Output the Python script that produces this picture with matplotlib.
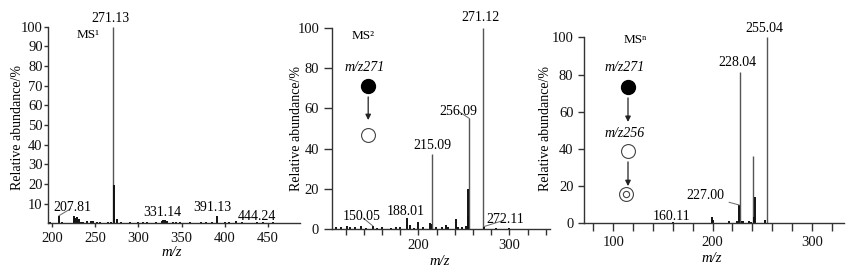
import matplotlib
matplotlib.use("Agg")
import matplotlib.pyplot as plt

plt.rcParams['font.family'] = ['Liberation Serif', 'DejaVu Serif']

# ---------------- data ----------------
ms1_mz = [271.13, 272.13, 207.81, 331.14, 391.13, 444.24,
          198, 203, 212, 225, 227, 229, 231, 233, 236, 240, 245, 247, 252, 256,
          260, 265, 268, 275, 280, 285, 290, 296, 300, 305, 310, 315, 320, 327,
          329, 333, 340, 344, 348, 355, 360, 366, 372, 378, 385, 395, 400, 405,
          413, 420, 430, 437, 450, 456, 462]
ms1_int = [100, 19.5, 3.8, 1.5, 3.5, 0.8,
           0.5, 0.4, 0.6, 3.6, 2.5, 3.0, 2.2, 0.8, 0.6, 1.4, 1.3, 1.0, 0.6, 0.5,
           0.4, 0.6, 0.5, 2.0, 0.6, 0.4, 0.5, 0.4, 0.8, 0.6, 0.5, 0.4, 0.6, 1.2,
           1.8, 1.0, 0.9, 0.8, 0.5, 0.4, 0.5, 0.4, 0.6, 0.7, 0.5, 0.4, 0.5, 0.6,
           1.0, 0.5, 0.4, 0.5, 0.4, 0.5, 0.3]
ms1_labels = ["271.13", "207.81", "331.14", "391.13", "444.24"]
ms1_label_mz = [271.13, 207.81, 331.14, 391.13, 444.24]
ms1_label_int = [100, 3.8, 1.5, 3.5, 0.8]

ms2_mz = [271.12, 256.09, 255.09, 254.10, 215.09, 188.01, 200.0, 150.05, 272.11,
          213, 214, 241.5, 230, 233, 244, 248, 252, 226, 219, 205, 195, 191,
          180, 176, 170, 160, 155, 143, 137, 130, 125, 122, 115, 110, 285, 300]
ms2_int = [100, 55, 20, 6.5, 37.3, 5.3, 3.6, 1.5, 1.2,
           3.0, 2.5, 5.0, 2.0, 1.2, 1.0, 1.0, 1.5, 1.2, 1.0, 0.8, 0.7, 1.8,
           1.2, 1.0, 0.6, 0.8, 0.5, 0.6, 1.5, 1.0, 1.2, 1.4, 0.8, 1.0, 0.5, 0.3]
ms2_labels = ["271.12", "256.09", "215.09", "188.01", "150.05", "272.11"]
ms2_label_mz = [271.12, 256.09, 215.09, 188.01, 150.05, 272.11]
ms2_label_int = [100, 55, 37.3, 5.3, 1.5, 1.2]

ms3_mz = [255.04, 228.04, 240.5, 242.5, 227.00, 241.5, 199, 200, 216, 160.11,
          225, 231, 236.5, 252.5, 239, 230]
ms3_int = [100, 81.5, 36.3, 14, 9.8, 3.6, 3.2, 2.0, 1.5, 0.5,
           1.5, 1.5, 1.5, 2.0, 0.8, 1.0]
ms3_labels = ["255.04", "228.04", "227.00", "160.11"]
ms3_label_mz = [255.04, 228.04, 227.00, 160.11]
ms3_label_int = [100, 81.5, 9.8, 0.5]

W, H = 850, 272
fig = plt.figure(figsize=(8.5, 2.72), dpi=100)


def px_axes(left, right, y0, y100):
    return fig.add_axes([left / W, 1 - y0 / H, (right - left) / W, (y0 - y100) / H])


def style(ax, xlim, xmajor, xminor, yticks, ylabels, ylen, xlen, ylab_xy, xlab_xy):
    ax.set_xlim(*xlim)
    ax.set_ylim(0, 100)
    for s in ("top", "right"):
        ax.spines[s].set_visible(False)
    for s in ("left", "bottom"):
        ax.spines[s].set_color("#333333")
        ax.spines[s].set_linewidth(1.0)
    ax.set_xticks(xmajor)
    ax.set_xticks(xminor, minor=True)
    ax.set_yticks(yticks)
    ax.set_yticklabels(ylabels)
    ax.tick_params(axis="y", direction="out", length=ylen, width=1, color="#333333",
                   labelsize=10.5, pad=2, labelcolor="#111111")
    ax.tick_params(axis="x", which="both", direction="out", length=xlen, width=1,
                   color="#333333", labelsize=10.5, pad=3, labelcolor="#111111")
    ax.set_ylabel("Relative abundance/%", fontsize=10)
    ax.yaxis.set_label_coords(*ylab_xy)
    ax.yaxis.label.set_verticalalignment("center")
    ax.set_xlabel("m/z", fontsize=10.5, style="italic")
    ax.xaxis.set_label_coords(*xlab_xy)
    ax.xaxis.label.set_verticalalignment("center")


def draw_peaks(ax, mz, inten):
    for m, v in zip(mz, inten):
        if v > 30:
            ax.vlines(m, 0, v, color="#555555", lw=1.0)
        else:
            ax.vlines(m, 0, v, color="#111111", lw=1.4)


def label_peaks(ax, labels, mzs, ints, pos, leader):
    for lab, m, v, (lx, ly), ld in zip(labels, mzs, ints, pos, leader):
        if ld:
            ax.annotate(lab, xy=(m, v), xytext=(lx, ly), ha="center", va="center",
                        fontsize=10, annotation_clip=False,
                        arrowprops=dict(arrowstyle="-", color="#666666", lw=0.7,
                                        shrinkA=1, shrinkB=0))
        else:
            ax.text(lx, ly, lab, ha="center", va="center", fontsize=10, clip_on=False)


def arrow(ax, x, y1, y2):
    ax.annotate("", xy=(x, y2), xytext=(x, y1), annotation_clip=False,
                arrowprops=dict(arrowstyle="-|>", color="#222222", lw=0.9,
                                mutation_scale=8, shrinkA=0, shrinkB=0))


# ---------------- panel 1 ----------------
ax1 = px_axes(48.3, 300, 223.3, 26.7)
style(ax1, (195.7, 487), [200, 250, 300, 350, 400, 450], [],
      [10, 20, 30, 40, 50, 60, 70, 80, 90, 100],
      ["10", "20", "30", "40", "50", "60", "70", "80", "90", "100"],
      3, 3, (-0.124, 0.485), (0.49, -0.146))
ax1.tick_params(axis="y", pad=1)
draw_peaks(ax1, ms1_mz, ms1_int)
label_peaks(ax1, ms1_labels, ms1_label_mz, ms1_label_int,
            [(267.1, 104.4), (223.1, 7.8), (327.3, 5.7), (385.2, 7.8), (437.3, 3.7)],
            [False, True, False, False, False])
ax1.text(241.7, 95.8, "MS¹", ha="center", va="center", fontsize=9.5)

# ---------------- panel 2 ----------------
ax2 = px_axes(331.7, 550, 229, 28)
style(ax2, (104.8, 344.7), [200, 300], list(range(120, 341, 20)),
      [0, 20, 40, 60, 80, 100], ["0", "20", "40", "60", "80", "100"],
      5.5, 4, (-0.1635, 0.5), (0.496, -0.164))
ax2.tick_params(axis="y", pad=3.5)
draw_peaks(ax2, ms2_mz, ms2_int)
label_peaks(ax2, ms2_labels, ms2_label_mz, ms2_label_int,
            [(267.8, 105), (243.6, 58.7), (215.1, 41.3), (186.5, 8.5), (138.0, 6.0),
             (295.2, 4.5)],
            [False, True, False, False, True, True])
ax2.text(139.2, 96, "MS²", ha="center", va="center", fontsize=9.5)
ax2.text(140.5, 80.1, "m/z271", ha="center", va="center", fontsize=10, style="italic")
ax2.plot([144.9], [71.1], marker="o", ms=10, color="black", clip_on=False)
arrow(ax2, 144.9, 65.7, 54.2)
ax2.plot([144.9], [46.8], marker="o", ms=10, mfc="white", mec="#444444", mew=0.8,
         clip_on=False)

# ---------------- panel 3 ----------------
ax3 = px_axes(584.3, 844, 223.3, 37.3)
style(ax3, (70.8, 332.3), [100, 200, 300], list(range(80, 321, 20)),
      [0, 20, 40, 60, 80, 100], ["0", "20", "40", "60", "80", "100"],
      4.3, 6, (-0.1475, 0.512), (0.49, -0.188))
ax3.tick_params(axis="y", pad=3.5)
draw_peaks(ax3, ms3_mz, ms3_int)
label_peaks(ax3, ms3_labels, ms3_label_mz, ms3_label_int,
            [(252.6, 105), (225.4, 86.2), (193.2, 14.7), (159.1, 3.9)],
            [False, False, True, False])
ax3.text(121.9, 98.5, "MSⁿ", ha="center", va="center", fontsize=9.5)
ax3.text(111.8, 83.5, "m/z271", ha="center", va="center", fontsize=10, style="italic")
ax3.plot([114.8], [73.3], marker="o", ms=10, color="black", clip_on=False)
arrow(ax3, 114.8, 67.4, 54.5)
ax3.text(111.8, 48.5, "m/z256", ha="center", va="center", fontsize=10, style="italic")
ax3.plot([114.8], [38.9], marker="o", ms=10, mfc="white", mec="#444444", mew=0.8,
         clip_on=False)
arrow(ax3, 114.8, 33, 20)
ax3.plot([112.8], [15.8], marker="o", ms=10, mfc="white", mec="#444444", mew=0.8,
         clip_on=False)
ax3.plot([112.8], [15.8], marker="o", ms=4.5, mfc="white", mec="#444444", mew=0.8,
         clip_on=False)

fig.savefig("out.png", dpi=100)
